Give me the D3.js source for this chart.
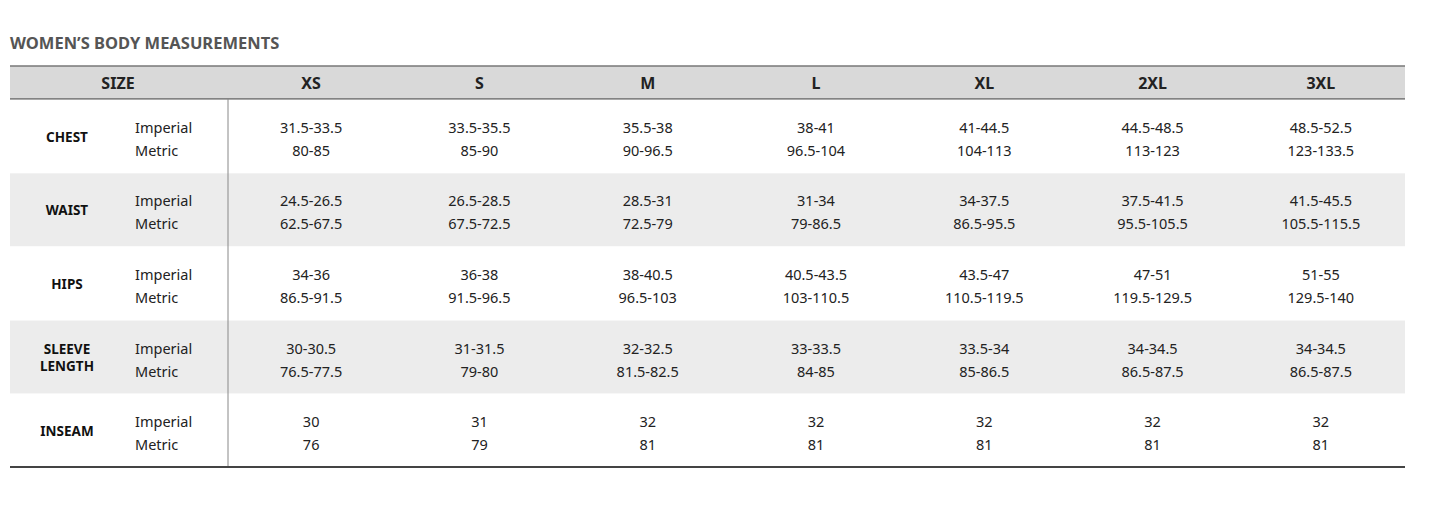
<!DOCTYPE html>
<html><head><meta charset="utf-8">
<script src="https://cdn.jsdelivr.net/npm/d3@7"></script>
<style>body{margin:0;background:#fff;font-family:"Noto Sans","Open Sans",sans-serif;}</style>
</head><body><div id="chart"></div>
<script>
const sizes = ["XS", "S", "M", "L", "XL", "2XL", "3XL"];
const measures = ["CHEST", "WAIST", "HIPS", "SLEEVE\nLENGTH", "INSEAM"];
const imperial = [
  ["31.5-33.5", "33.5-35.5", "35.5-38", "38-41", "41-44.5", "44.5-48.5", "48.5-52.5"],
  ["24.5-26.5", "26.5-28.5", "28.5-31", "31-34", "34-37.5", "37.5-41.5", "41.5-45.5"],
  ["34-36", "36-38", "38-40.5", "40.5-43.5", "43.5-47", "47-51", "51-55"],
  ["30-30.5", "31-31.5", "32-32.5", "33-33.5", "33.5-34", "34-34.5", "34-34.5"],
  ["30", "31", "32", "32", "32", "32", "32"]
];
const metric = [
  ["80-85", "85-90", "90-96.5", "96.5-104", "104-113", "113-123", "123-133.5"],
  ["62.5-67.5", "67.5-72.5", "72.5-79", "79-86.5", "86.5-95.5", "95.5-105.5", "105.5-115.5"],
  ["86.5-91.5", "91.5-96.5", "96.5-103", "103-110.5", "110.5-119.5", "119.5-129.5", "129.5-140"],
  ["76.5-77.5", "79-80", "81.5-82.5", "84-85", "85-86.5", "86.5-87.5", "86.5-87.5"],
  ["76", "79", "81", "81", "81", "81", "81"]
];

const W = 1445, H = 514;
const left = 10, right = 1405, divX = 228, headTop = 66, headBot = 99, bodyBot = 467;

const svg = d3.select("#chart").append("svg").attr("width", W).attr("height", H);

const x = d3.scaleBand().domain(sizes).range([227, 1405]);
const y = d3.scaleBand().domain(d3.range(measures.length)).range([headBot, bodyBot]);

svg.append("text").attr("x", 10).attr("y", 49)
  .attr("font-size", 16.5).attr("font-weight", 700).attr("fill", "#555")
  .text("WOMEN\u2019S BODY MEASUREMENTS");

// header
svg.append("rect").attr("x", left).attr("y", headTop).attr("width", right - left).attr("height", headBot - headTop).attr("fill", "#d9d9d9");
svg.append("line").attr("x1", left).attr("x2", right).attr("y1", headTop).attr("y2", headTop).attr("stroke", "#777").attr("stroke-width", 1.5);
svg.append("line").attr("x1", left).attr("x2", right).attr("y1", headBot).attr("y2", headBot).attr("stroke", "#666").attr("stroke-width", 1.5);
const hy = (headTop + headBot) / 2 + 6;
svg.append("text").attr("x", 118).attr("y", hy).attr("text-anchor", "middle").attr("font-size", 16).attr("font-weight", 700).attr("fill", "#222").text("SIZE");
svg.selectAll(".hd").data(sizes).enter().append("text")
  .attr("x", d => x(d) + x.bandwidth() / 2).attr("y", hy)
  .attr("text-anchor", "middle").attr("font-size", 16).attr("font-weight", 700).attr("fill", "#222").text(d => d);

// rows
const rows = svg.selectAll(".row").data(measures).enter().append("g")
  .attr("transform", (d, i) => `translate(0,${y(i)})`);
rows.append("rect").attr("x", left).attr("width", right - left).attr("y", 0.75).attr("height", y.bandwidth() - 0.75)
  .attr("fill", (d, i) => i % 2 ? "#ececec" : "#fff");
const bh = y.bandwidth() / 2;
rows.each(function (d, i) {
  const g = d3.select(this);
  const parts = d.split("\n");
  parts.forEach((p, k) => {
    g.append("text").attr("x", 67).attr("y", bh + 6 + (k - (parts.length - 1) / 2) * 17)
      .attr("text-anchor", "middle").attr("font-size", 13.5).attr("font-weight", 700).attr("fill", "#111").text(p);
  });
  g.append("text").attr("x", 135).attr("y", bh - 3).attr("font-size", 14.5).attr("fill", "#222").text("Imperial");
  g.append("text").attr("x", 135).attr("y", bh + 20).attr("font-size", 14.5).attr("fill", "#222").text("Metric");
  sizes.forEach((s, j) => {
    const cx = x(s) + x.bandwidth() / 2;
    g.append("text").attr("x", cx).attr("y", bh - 3).attr("text-anchor", "middle").attr("font-size", 14.5).attr("fill", "#222").text(imperial[i][j]);
    g.append("text").attr("x", cx).attr("y", bh + 20).attr("text-anchor", "middle").attr("font-size", 14.5).attr("fill", "#222").text(metric[i][j]);
  });
});

svg.append("line").attr("x1", divX).attr("x2", divX).attr("y1", headBot).attr("y2", bodyBot).attr("stroke", "#888").attr("stroke-width", 1);
svg.append("line").attr("x1", left).attr("x2", right).attr("y1", bodyBot).attr("y2", bodyBot).attr("stroke", "#444").attr("stroke-width", 2);
</script></body></html>
